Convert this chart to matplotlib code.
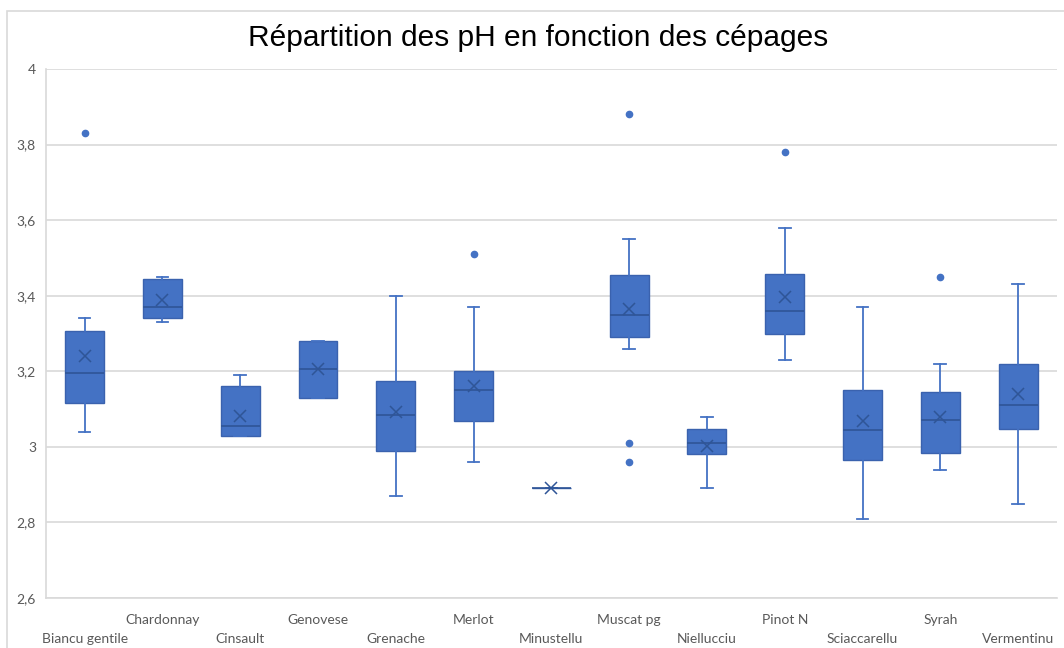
import matplotlib
matplotlib.use("Agg")
from matplotlib import pyplot as plt
from matplotlib.patches import Rectangle

# cepages and box statistics
cepages = ["Biancu gentile", "Chardonnay", "Cinsault", "Genovese", "Grenache",
           "Merlot", "Minustellu", "Muscat pg", "Niellucciu", "Pinot N",
           "Sciaccarellu", "Syrah", "Vermentinu"]
whis_lo = [3.04, 3.33, 3.03, 3.13, 2.87, 2.96, 2.89, 3.26, 2.89, 3.23, 2.81, 2.94, 2.85]
q1 = [3.115, 3.34, 3.03, 3.13, 2.99, 3.068, 2.89, 3.29, 2.98, 3.30, 2.966, 2.983, 3.048]
median = [3.195, 3.37, 3.055, 3.205, 3.085, 3.15, 2.89, 3.35, 3.01, 3.36, 3.045, 3.07, 3.11]
q3 = [3.307, 3.445, 3.16, 3.28, 3.175, 3.20, 2.89, 3.455, 3.048, 3.458, 3.15, 3.146, 3.22]
whis_hi = [3.34, 3.45, 3.19, 3.28, 3.40, 3.37, 2.89, 3.55, 3.08, 3.58, 3.37, 3.22, 3.43]
mean = [3.24, 3.388, 3.082, 3.206, 3.091, 3.16, 2.89, 3.364, 3.003, 3.397, 3.069, 3.079, 3.139]
outliers = [[3.83], [], [], [], [], [3.51], [], [3.88, 3.01, 2.96], [], [3.78], [], [3.45], []]

blue = "#4472C4"
dark = "#2F5597"
grey_txt = "#595959"
grid_col = "#D9D9D9"

stats = []
for i in range(len(cepages)):
    stats.append({"label": cepages[i], "whislo": whis_lo[i], "q1": q1[i],
                  "med": median[i], "q3": q3[i], "whishi": whis_hi[i],
                  "mean": mean[i], "fliers": outliers[i]})

fig = plt.figure(figsize=(10.64, 6.48), dpi=100)
ax = fig.add_axes([45.7 / 1064, 1 - 598 / 648, (1057 - 45.7) / 1064, (598 - 69) / 648])

# light frame around the chart (cut off on right and bottom)
fig.patches.append(Rectangle((7 / 1064, -0.05), 1.2, 1.05 - 10.5 / 648,
                             transform=fig.transFigure, fill=False,
                             edgecolor=grid_col, linewidth=1.2))

ax.bxp(stats, positions=range(len(cepages)), widths=0.5, patch_artist=True,
       showmeans=True, showfliers=True,
       boxprops=dict(facecolor=blue, edgecolor="#3A62AE", linewidth=1),
       medianprops=dict(color=dark, linewidth=1.2),
       whiskerprops=dict(color=blue, linewidth=1.3),
       capprops=dict(color=blue, linewidth=1.3),
       capwidths=0.15,
       meanprops=dict(marker="x", markeredgecolor=dark, markersize=8,
                      markeredgewidth=1.1),
       flierprops=dict(marker="o", markerfacecolor=blue, markeredgecolor=blue,
                       markersize=4.5))

ax.set_xlim(-0.5, len(cepages) - 0.5)
ax.set_ylim(2.6, 4.0)
ax.set_yticks([2.6, 2.8, 3.0, 3.2, 3.4, 3.6, 3.8, 4.0])
ax.set_yticklabels(["2,6", "2,8", "3", "3,2", "3,4", "3,6", "3,8", "4"])
ax.yaxis.grid(True, color=grid_col, linewidth=1.2)
ax.set_axisbelow(True)

for s in ["top", "right"]:
    ax.spines[s].set_visible(False)
ax.spines["left"].set_color(grid_col)
ax.spines["bottom"].set_color(grid_col)
ax.spines["left"].set_linewidth(1.2)
ax.spines["bottom"].set_linewidth(1.2)

ax.set_xticks(range(len(cepages)))
ax.set_xticklabels(cepages)
ax.tick_params(axis="both", length=0, colors=grey_txt, labelsize=10)
ax.tick_params(axis="y", pad=7)
for lab in ax.get_xticklabels() + ax.get_yticklabels():
    lab.set_fontfamily("Lato")
for i, tick in enumerate(ax.xaxis.get_major_ticks()):
    tick.set_pad(11.5 if i % 2 else 25.5)

fig.suptitle("Répartition des pH en fonction des cépages", x=538 / 1064, y=1 - 24 / 648,
             va="top", fontsize=21.5, fontfamily="Liberation Sans", color="#000000")

fig.savefig("out.png", dpi=100)
